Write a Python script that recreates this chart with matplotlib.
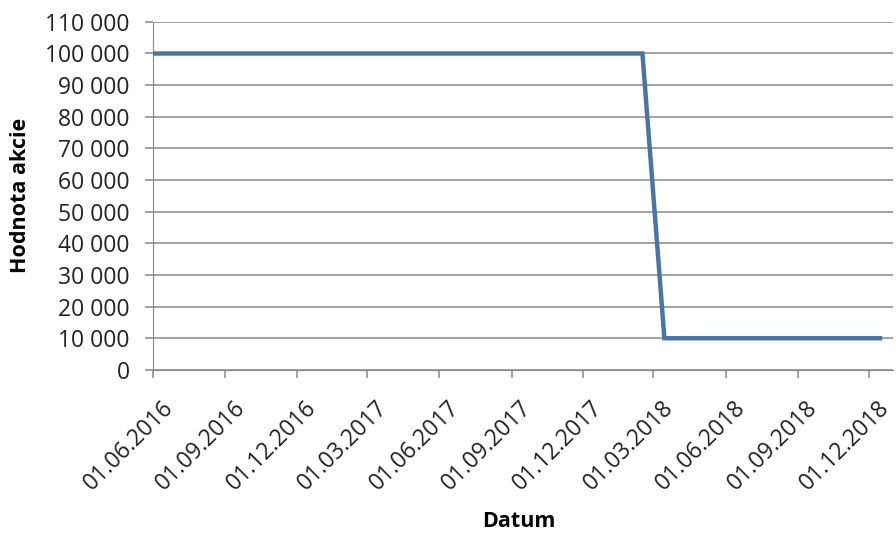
import matplotlib
matplotlib.use('Agg')
import matplotlib.pyplot as plt
import matplotlib.dates as mdates
import matplotlib.transforms as mtransforms
from matplotlib.ticker import FuncFormatter
import datetime as dt

# hodnota akcie v case
datumy = [dt.date(2016, 6, 1), dt.date(2018, 2, 15), dt.date(2018, 3, 15), dt.date(2018, 12, 15)]
hodnoty = [100000, 100000, 10000, 10000]

tick_datumy = [dt.date(2016, 6, 1), dt.date(2016, 9, 1), dt.date(2016, 12, 1), dt.date(2017, 3, 1),
               dt.date(2017, 6, 1), dt.date(2017, 9, 1), dt.date(2017, 12, 1), dt.date(2018, 3, 1),
               dt.date(2018, 6, 1), dt.date(2018, 9, 1), dt.date(2018, 12, 1)]
y_ticks = list(range(0, 110001, 10000))

plt.rcParams['font.family'] = ['Open Sans', 'DejaVu Sans']

fig = plt.figure(figsize=(8.96, 5.33), dpi=100)
ax = fig.add_axes([0.171, 0.306, 0.826, 0.653])

ax.plot(datumy, hodnoty, c='#4A74A4', lw=3.2, solid_joinstyle='miter', zorder=3)

ax.set_ylim(0, 110000)
ax.set_yticks(y_ticks)
ax.yaxis.set_major_formatter(FuncFormatter(lambda v, p: f'{int(v):,}'.replace(',', ' ')))
ax.set_xlim(dt.date(2016, 6, 1), dt.date(2019, 1, 1))
ax.set_xticks(tick_datumy)
ax.xaxis.set_major_formatter(mdates.DateFormatter('%d.%m.%Y'))

ax.grid(axis='y', c='#878787', lw=1.1)
ax.set_axisbelow(True)
for s in ['top', 'right']:
    ax.spines[s].set_visible(False)
ax.spines['left'].set_color('#878787')
ax.spines['bottom'].set_color('#878787')
ax.tick_params(axis='both', colors='#878787', labelcolor='#222222', labelsize=16.5, length=6, width=1.1)
ax.tick_params(axis='y', pad=11)
ax.tick_params(axis='x', pad=4)

# posunuti popisku datumu doprava a dolu (jako v Excelu)
posun = mtransforms.ScaledTranslation(0.08, -0.12, fig.dpi_scale_trans)
for lbl in ax.get_xticklabels():
    lbl.set_rotation(45)
    lbl.set_ha('right')
    lbl.set_rotation_mode('anchor')
    lbl.set_transform(lbl.get_transform() + posun)

ax.set_ylabel('Hodnota akcie', fontsize=15.5, fontweight='bold')
ax.yaxis.set_label_coords(-0.165, 0.5)
ax.set_xlabel('Datum', fontsize=15.5, fontweight='bold')
ax.xaxis.set_label_coords(0.494, -0.405)

fig.savefig('out.png', dpi=100)
